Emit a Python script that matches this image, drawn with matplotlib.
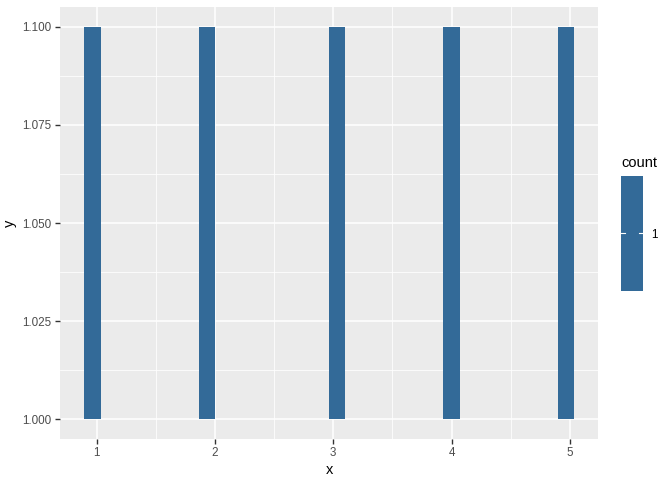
import matplotlib
matplotlib.use("Agg")
import matplotlib.pyplot as plt
from matplotlib.colors import ListedColormap, Normalize
from matplotlib.cm import ScalarMappable
from matplotlib.ticker import FixedLocator
import numpy as np

# data: 2d bins (x bin edges, y bin edges, count)
bin_xmin = [0.896, 1.862, 2.965, 3.930, 4.896]
bin_xmax = [1.034, 2.000, 3.103, 4.068, 5.034]
bin_ymin = [1.0, 1.0, 1.0, 1.0, 1.0]
bin_ymax = [1.1, 1.1, 1.1, 1.1, 1.1]
counts = [1, 1, 1, 1, 1]
x_ticks = [1, 2, 3, 4, 5]
y_ticks = [1.000, 1.025, 1.050, 1.075, 1.100]
y_tick_labels = ["1.000", "1.025", "1.050", "1.075", "1.100"]

fill_color = "#336A98"
W, H = 672, 480
fig = plt.figure(figsize=(W / 100, H / 100), dpi=100)
plt.rcParams["font.family"] = ["Liberation Sans", "DejaVu Sans"]

left, right, top, bottom = 60, 598.3, 7, 439
ax = fig.add_axes([left / W, 1 - bottom / H, (right - left) / W, (bottom - top) / H])
ax.set_facecolor("#EBEBEB")
for s in ax.spines.values():
    s.set_visible(False)

cmap = ListedColormap([fill_color])
norm = Normalize(vmin=0.95, vmax=1.05)
for x0, x1, y0, y1, c in zip(bin_xmin, bin_xmax, bin_ymin, bin_ymax, counts):
    ax.fill_between([x0, x1], y0, y1, color=cmap(norm(c)), linewidth=0, zorder=3)

xr = max(bin_xmax) - min(bin_xmin)
ax.set_xlim(min(bin_xmin) - 0.05 * xr, max(bin_xmax) + 0.05 * xr)
yr = max(bin_ymax) - min(bin_ymin)
ax.set_ylim(min(bin_ymin) - 0.05 * yr, max(bin_ymax) + 0.05 * yr)

ax.set_xticks(x_ticks)
ax.set_xticklabels([str(v) for v in x_ticks])
ax.set_yticks(y_ticks)
ax.set_yticklabels(y_tick_labels)
ax.xaxis.set_minor_locator(FixedLocator([1.5, 2.5, 3.5, 4.5]))
ax.yaxis.set_minor_locator(FixedLocator([1.0125, 1.0375, 1.0625, 1.0875]))
ax.grid(which="major", color="white", linewidth=1.1, zorder=1)
ax.grid(which="minor", color="white", linewidth=0.55, zorder=1)
ax.set_axisbelow(True)
ax.tick_params(which="major", length=3.5, width=1.0, color="#333333",
               labelsize=8.4, labelcolor="#4D4D4D", pad=2.5)
ax.tick_params(which="minor", length=0)
ax.set_xlabel("x", fontsize=10.5, color="black", labelpad=3)
ax.set_ylabel("y", fontsize=10.5, color="black", labelpad=4)

# legend colorbar
cl, cr, ct, cb = 620.7, 643.3, 175.7, 290.7
cax = fig.add_axes([cl / W, 1 - cb / H, (cr - cl) / W, (cb - ct) / H])
sm = ScalarMappable(norm=norm, cmap=cmap)
cbar = fig.colorbar(sm, cax=cax, ticks=[1])
cbar.outline.set_visible(False)
cax.tick_params(length=0, labelsize=8.4, labelcolor="#000000", pad=6)
for xs in [(0, 0.2), (0.8, 1.0)]:
    cax.plot(xs, [1, 1], color="white", linewidth=0.8, transform=cax.get_yaxis_transform() if False else cax.transData)
cax.set_xlim(0, 1)
fig.text(621 / W, 1 - 162.7 / H, "count", fontsize=10.5, ha="left", va="center")

fig.savefig("out.png", dpi=100)
